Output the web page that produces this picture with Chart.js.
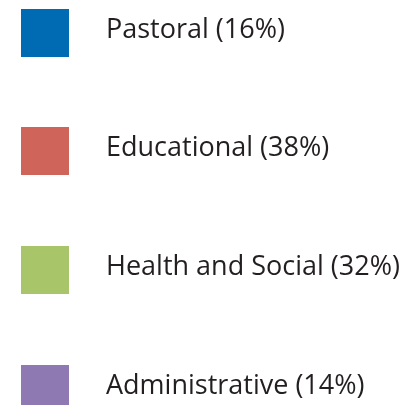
<!DOCTYPE html>
<html>
<head>
<meta charset="utf-8">
<script src="https://cdn.jsdelivr.net/npm/chart.js@4/dist/chart.umd.min.js"></script>
<style>
html,body{margin:0;padding:0;background:#fff;}
#wrap{position:relative;width:402px;height:405px;}
</style>
</head>
<body>
<div id="wrap"><canvas id="c"></canvas></div>
<script>
const categories = ["Pastoral", "Educational", "Health and Social", "Administrative"];
const shares = [16, 38, 32, 14];
const colors = ["#006AB3", "#CF645B", "#A9C56A", "#8F79B2"];

const legendLayout = {
  id: 'sideLegend',
  afterDraw(chart, args, opts) {
    const ctx = chart.ctx;
    const items = chart.options.plugins.legend.labels.generateLabels(chart);
    ctx.save();
    ctx.font = opts.fontSize + 'px ' + opts.fontFamily;
    ctx.textBaseline = 'middle';
    ctx.textAlign = 'left';
    items.forEach((it, i) => {
      const top = Math.round(opts.top + i * opts.step);
      ctx.fillStyle = it.fillStyle;
      ctx.fillRect(opts.boxLeft, top, opts.box, opts.box);
      ctx.fillStyle = opts.color;
      const v = chart.data.datasets[0].data[it.index];
      ctx.fillText(it.text + ' (' + v + '%)', opts.textLeft, top + opts.box / 2 + opts.textDy);
    });
    ctx.restore();
  }
};

new Chart(document.getElementById('c'), {
  type: 'pie',
  data: {
    labels: categories,
    datasets: [{
      data: shares,
      backgroundColor: colors,
      borderWidth: 0,
      circumference: 0
    }]
  },
  options: {
    responsive: true,
    maintainAspectRatio: false,
    animation: false,
    events: [],
    plugins: {
      legend: { display: false },
      tooltip: { enabled: false },
      sideLegend: {
        top: 8.5, step: 118.8, box: 48, boxLeft: 21, textLeft: 106, textDy: -3,
        fontSize: 27, fontFamily: '"Open Sans", sans-serif', color: '#231F20'
      }
    }
  },
  plugins: [legendLayout]
});
</script>
</body>
</html>
